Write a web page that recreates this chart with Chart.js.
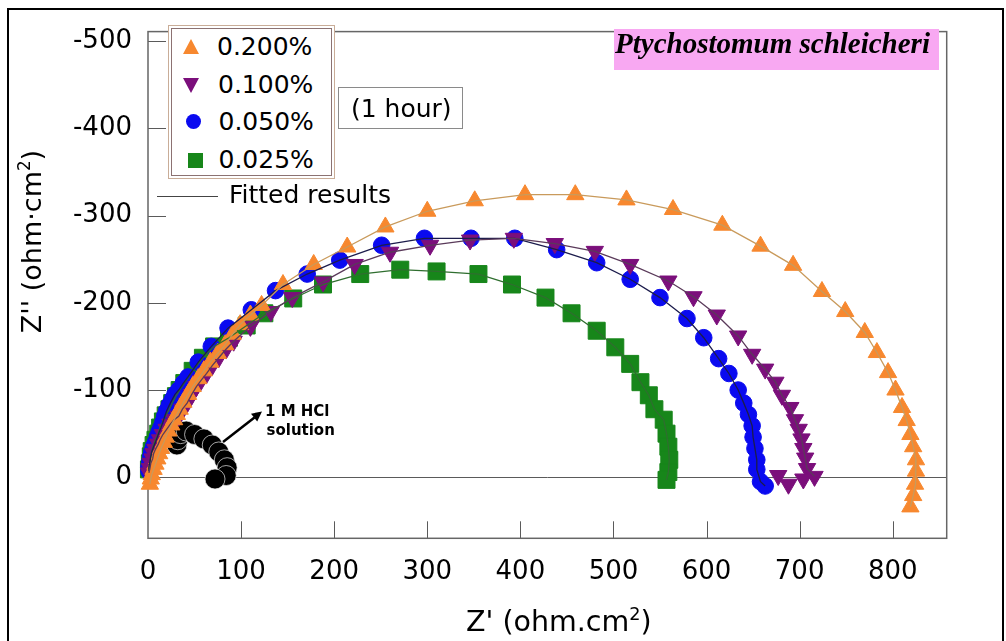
<!doctype html>
<html lang="en">
<head>
<meta charset="utf-8">
<title>Nyquist plot - Ptychostomum schleicheri (1 hour)</title>
<script src="https://cdn.jsdelivr.net/npm/chart.js@4.4.1/dist/chart.umd.min.js"></script>
<style>
  body { margin: 0; background: #fff; }
  #wrap { position: relative; width: 1006px; height: 641px; overflow: hidden; background: #fff;
          font-family: 'DejaVu Sans', sans-serif; color: #000; }
  #wrap > * { position: absolute; }
  #chart { left: 0; top: 0; }
  .frame { left: 7px; top: 8px; width: 997px; height: 700px; box-sizing: border-box; border: 2.5px solid #000; }
  .txt { font-size: 25px; line-height: 25px; white-space: nowrap; }
  .legend { left: 168px; top: 25px; width: 167px; height: 154px; box-sizing: border-box;
            border: 1px solid #c9ad98; background: #fff; }
  .legend-inner { left: 171px; top: 28px; width: 161px; height: 148px; box-sizing: border-box;
                  border: 1px solid #8c7272; }
  .tri-up { width: 0; height: 0; border-left: 8.5px solid transparent; border-right: 8.5px solid transparent;
            border-bottom: 15px solid #f7882f; }
  .tri-down { width: 0; height: 0; border-left: 8.5px solid transparent; border-right: 8.5px solid transparent;
              border-top: 15px solid #7b0f7b; }
  .dot { width: 15px; height: 15px; border-radius: 50%; background: #0a0af0; }
  .sq { width: 15px; height: 15px; background: #17861a; }
  .hour { left: 338px; top: 87px; width: 125px; height: 42px; box-sizing: border-box; border: 1px solid #8a8a8a; }
  .fitline { left: 157px; top: 196px; width: 61px; height: 1px; background: #444; }
  .species { left: 614px; top: 29px; width: 325px; height: 41px; background: #f8a8f2; }
  .species-txt { left: 615px; top: 29px; font: italic bold 29px/29px 'Liberation Serif', serif; white-space: nowrap; }
  .hcl { font: bold 15px/15px 'DejaVu Sans', sans-serif; white-space: nowrap; }
  .xtitle { left: 466px; top: 608px; font-size: 28.5px; line-height: 28.5px; white-space: nowrap; }
  .ytitle { left: -99px; top: 227.5px; width: 260px; height: 27px; text-align: center; font-size: 27px;
            line-height: 27px; white-space: nowrap; transform: rotate(-90deg); }
  sup { font-size: 0.62em; line-height: 0; vertical-align: 0.62em; }
</style>
</head>
<body>
<div id="wrap">
  <div class="frame"></div>
  <canvas id="chart" width="1006" height="641"></canvas>

  <div class="legend"></div>
  <div class="legend-inner"></div>
  <div class="tri-up" style="left:182.5px;top:39px"></div>
  <div class="txt" style="left:217px;top:34px">0.200%</div>
  <div class="tri-down" style="left:183px;top:78px"></div>
  <div class="txt" style="left:218px;top:72px">0.100%</div>
  <div class="dot" style="left:186px;top:114px"></div>
  <div class="txt" style="left:218.5px;top:109px">0.050%</div>
  <div class="sq" style="left:187.5px;top:152.5px"></div>
  <div class="txt" style="left:218.5px;top:147px">0.025%</div>

  <div class="hour"></div>
  <div class="txt" style="left:351px;top:96px">(1 hour)</div>

  <div class="fitline"></div>
  <div class="txt" style="left:229px;top:182px">Fitted results</div>

  <div class="species"></div>
  <div class="species-txt">Ptychostomum schleicheri</div>

  <div class="hcl" style="left:265px;top:404px">1 M HCl</div>
  <div class="hcl" style="left:266.5px;top:422.5px">solution</div>
  <svg style="left:0;top:0" width="1006" height="641">
    <line x1="223" y1="442" x2="254.5" y2="417.5" stroke="#000" stroke-width="2.5"/>
    <polygon points="262,411.5 257.2,421.5 251,413.7" fill="#000"/>
  </svg>

  <div class="xtitle">Z' (ohm.cm<sup>2</sup>)</div>
  <div class="ytitle">Z'' (ohm·cm<sup>2</sup>)</div>
</div>

<script>
// Z' (ohm.cm2) and Z'' (ohm.cm2), Z'' keeps its sign
const zre200 = [2, 3, 4, 6, 8, 10, 12, 14, 17, 19, 22, 25, 28, 31, 34, 38, 43, 48, 54, 60, 67, 75, 83, 91, 99,
  110, 122, 145, 178, 214, 255, 300, 351, 405, 459, 514, 564, 617, 658, 693, 724, 749, 770, 783, 795, 803, 810,
  815, 819, 822, 825, 825, 824, 822, 819]
const zim200 = [8, 2, -3, -9, -15, -21, -27, -33, -40, -46, -53, -60, -66, -72, -78, -86, -95, -104, -113, -122,
  -132, -142, -152, -164, -175, -186, -197, -221, -244, -264, -287, -305, -317, -324, -324, -318, -307, -289,
  -265, -243, -213, -190, -166, -143, -120, -100, -80, -65, -49, -35, -20, -7, 8, 21, 34]

const zre100 = [1, 2, 3, 5, 6, 8, 11, 13, 16, 20, 24, 28, 33, 37, 42, 47, 52, 57, 63, 69, 76, 84, 92, 110, 132,
  155, 188, 222, 260, 303, 346, 393, 437, 480, 518, 559, 586, 611, 634, 649, 663, 674, 681, 690, 695, 699, 702,
  704, 706, 708, 716, 704, 688, 677]
const zim100 = [-5, -10, -16, -21, -27, -32, -38, -43, -49, -55, -61, -66, -70, -78, -85, -95, -104, -111, -119,
  -128, -137, -147, -156, -173, -190, -206, -224, -244, -258, -266, -272, -274, -268, -259, -244, -225, -207,
  -186, -162, -141, -124, -109, -94, -80, -66, -55, -44, -33, -22, -10, -1, 2, 8, -2]

const zre050 = [1, 1, 2, 3, 4, 6, 8, 10, 12, 14, 16, 18, 20, 23, 26, 29, 33, 38, 43, 54, 68, 86, 111, 137, 171,
  206, 251, 297, 347, 394, 439, 482, 518, 550, 579, 597, 613, 624, 634, 640, 645, 649, 650, 652, 654, 654, 658,
  663]
const zim050 = [-7, -12, -18, -24, -29, -35, -40, -46, -52, -57, -63, -70, -76, -83, -89, -95, -100, -108, -115,
  -132, -150, -171, -192, -214, -233, -249, -266, -274, -274, -274, -261, -246, -227, -206, -182, -160, -136,
  -119, -100, -85, -72, -59, -46, -33, -20, -9, 5, 10]

const zre025 = [1, 2, 3, 4, 6, 8, 11, 13, 16, 19, 23, 26, 30, 34, 39, 48, 59, 71, 87, 106, 125, 156, 188, 228,
  271, 310, 355, 391, 427, 455, 482, 502, 518, 529, 538, 544, 554, 557, 559, 560, 559, 557]
const zim025 = [-9, -16, -24, -30, -37, -43, -50, -57, -64, -71, -78, -85, -93, -100, -108, -122, -137, -150,
  -160, -174, -188, -205, -221, -233, -238, -236, -233, -221, -206, -188, -168, -149, -130, -109, -94, -78, -66,
  -50, -35, -20, -6, 3]

const zreHcl = [31, 32, 35, 41, 50, 60, 69, 76, 82, 85, 84, 72]
const zimHcl = [-37, -43, -50, -53, -49, -44, -37, -29, -20, -11, -2, 2]

const pts = (xs, ys) => xs.map((v, i) => ({ x: v, y: ys[i] }))

function fit(xs, ys, color) {
  return { data: pts(xs, ys), showLine: true, pointRadius: 0, borderColor: color, borderWidth: 1.3, clip: false }
}

function marks(xs, ys, style, color, radius, rotation) {
  return {
    data: pts(xs, ys),
    showLine: false,
    pointStyle: style,
    pointRadius: radius,
    pointRotation: rotation || 0,
    backgroundColor: color,
    borderColor: color,
    borderWidth: 1,
    clip: false
  }
}

const hcl = marks(zreHcl, zimHcl, 'circle', '#000', 10)
hcl.borderColor = '#e8e8e8'
hcl.borderWidth = 0.7

// the tail of the 0.100% run wanders off the fitted arc, so the fit stops before it
const tail100 = 3

// plot frame, inward ticks and the zero line
const framePlugin = {
  id: 'frame',
  beforeDatasetsDraw(chart) {
    const { ctx, chartArea: a, scales: { x, y } } = chart
    ctx.save()
    ctx.strokeStyle = '#5a5a5a'
    ctx.lineWidth = 1
    ctx.beginPath()
    const y0 = Math.round(y.getPixelForValue(0)) + 0.5
    ctx.moveTo(a.left, y0)
    ctx.lineTo(a.right, y0)
    y.ticks.forEach((t) => {
      const py = Math.round(y.getPixelForValue(t.value)) + 0.5
      ctx.moveTo(a.left, py)
      ctx.lineTo(a.left + 18, py)
    })
    x.ticks.forEach((t) => {
      if (t.value === 0) return
      const px = Math.round(x.getPixelForValue(t.value)) + 0.5
      ctx.moveTo(px, a.bottom)
      ctx.lineTo(px, a.bottom - 17)
    })
    ctx.stroke()
    ctx.lineWidth = 1.5
    ctx.strokeStyle = '#666'
    ctx.strokeRect(a.left, a.top, a.right - a.left, a.bottom - a.top)
    ctx.restore()
  }
}

Chart.defaults.font.family = "'DejaVu Sans', sans-serif"
Chart.defaults.color = '#000'

new Chart(document.getElementById('chart'), {
  type: 'scatter',
  data: {
    datasets: [
      fit(zre200, zim200, '#c99a5b'),
      fit(zre100.slice(0, -tail100), zim100.slice(0, -tail100), '#5a3a5a'),
      fit(zre050, zim050, '#1c1c4c'),
      fit(zre025, zim025, '#2f6e2f'),
      marks(zre200, zim200, 'triangle', '#f7882f', 10),
      marks(zre100, zim100, 'triangle', '#7b0f7b', 10, 180),
      marks(zre050, zim050, 'circle', '#0a0af0', 8.3),
      marks(zre025, zim025, 'rect', '#17861a', 12),
      hcl
    ]
  },
  options: {
    responsive: false,
    devicePixelRatio: 1,
    animation: false,
    layout: { padding: { top: 20, right: 59.3, left: 0, bottom: 0 } },
    plugins: { legend: { display: false }, tooltip: { enabled: false } },
    scales: {
      x: {
        type: 'linear',
        position: 'bottom',
        min: 0,
        max: 858,
        grid: { display: false, drawTicks: false },
        border: { display: false },
        ticks: { stepSize: 100, includeBounds: false, padding: 18, font: { size: 26 } },
        afterFit(scale) { scale.height = 102.7 }
      },
      y: {
        type: 'linear',
        min: -511,
        max: 70,
        reverse: true,
        grid: { display: false, drawTicks: false },
        border: { display: false },
        ticks: { stepSize: 100, includeBounds: false, padding: 16, font: { size: 26 } },
        afterFit(scale) { scale.width = 148 }
      }
    }
  },
  plugins: [framePlugin]
})
</script>
</body>
</html>
